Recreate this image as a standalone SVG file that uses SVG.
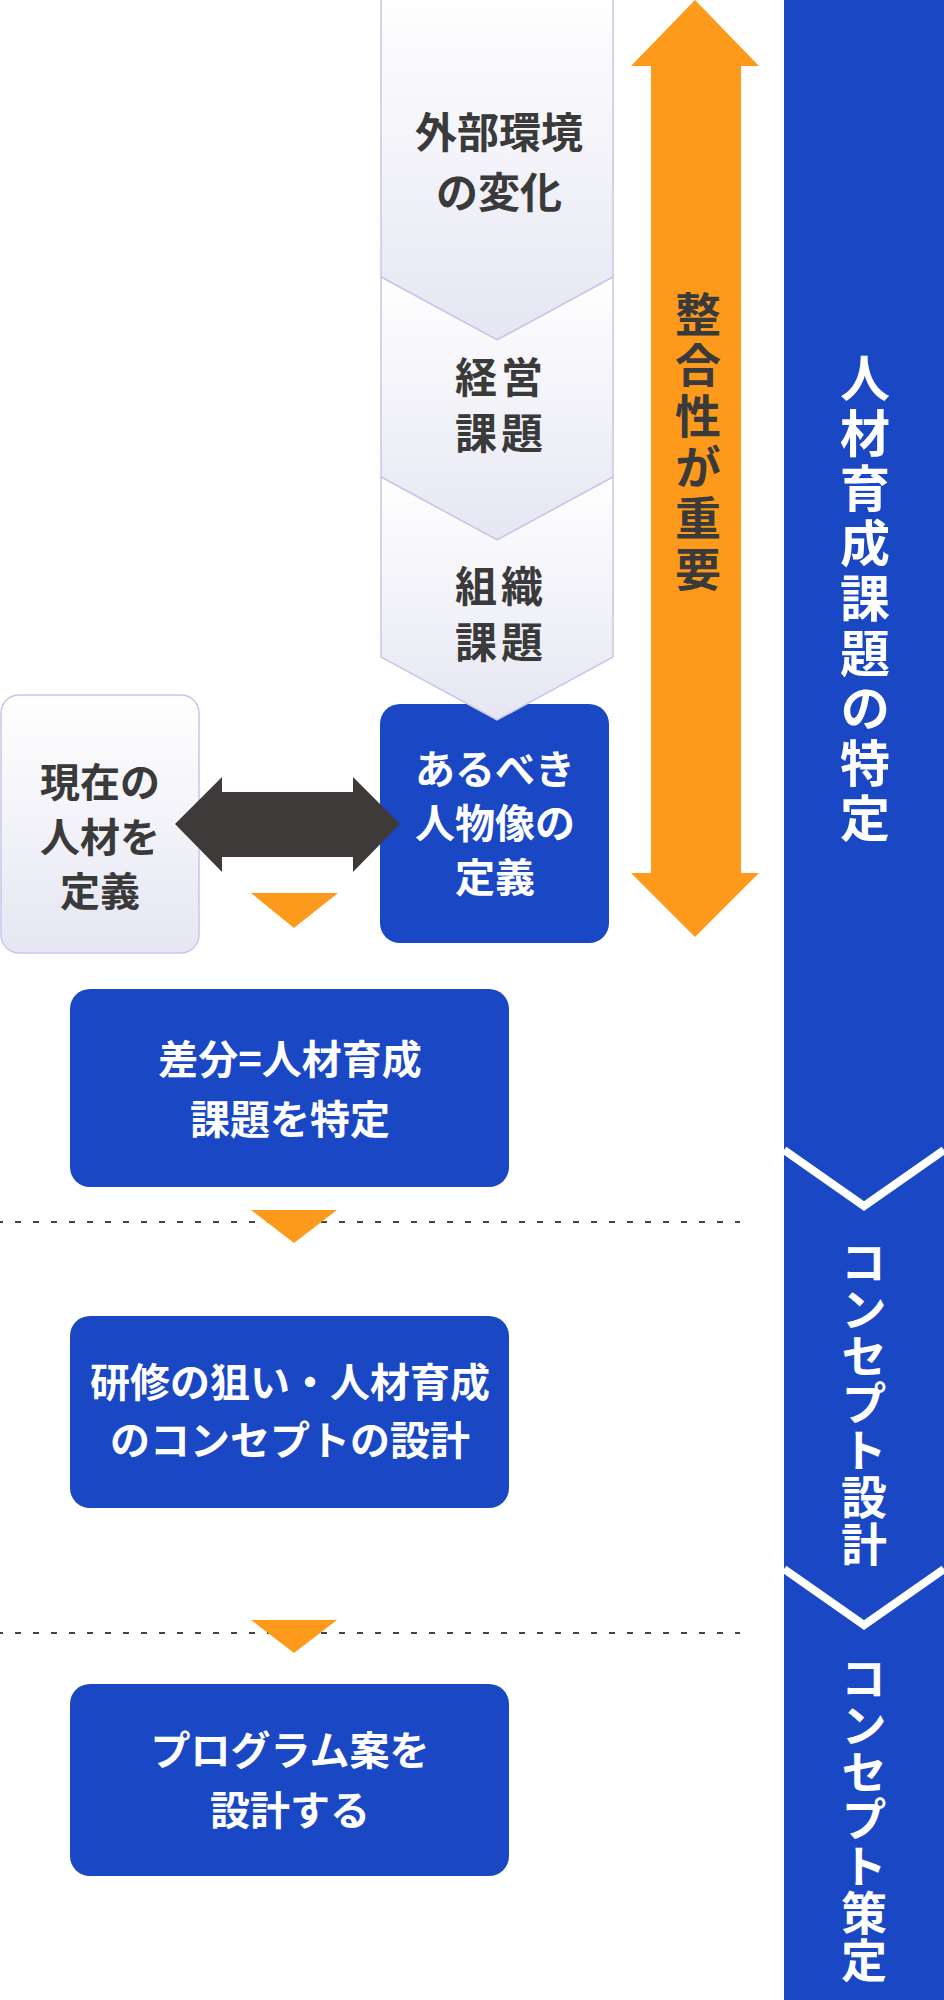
<svg xmlns="http://www.w3.org/2000/svg" width="944" height="2000" viewBox="0 0 944 2000">
<defs>
<linearGradient id="lg" x1="0" y1="0" x2="0" y2="1">
<stop offset="0" stop-color="#ffffff"/>
<stop offset="1" stop-color="#e6e6f3"/>
</linearGradient>
<style>
.lt{fill:url(#lg);stroke:#c6c8e8;stroke-width:1.5}
.bl{fill:#1a47c4}
.or{fill:#fd9a1c}
.dk{font-family:"Noto Sans CJK JP","Noto Sans",sans-serif;font-weight:bold;fill:#3a3a3a;text-anchor:middle}
.wt{font-family:"Noto Sans CJK JP","Noto Sans",sans-serif;font-weight:bold;fill:#ffffff;text-anchor:middle}
.vt{writing-mode:vertical-rl}
.dot{stroke:#444;stroke-width:2;stroke-dasharray:6 12;fill:none}
.chev{fill:none;stroke:#ffffff;stroke-width:8;stroke-linejoin:miter}
</style>
</defs>
<rect width="944" height="2000" fill="#ffffff"/>

<g id="phase-bar">
<rect class="bl" x="784" y="0" width="160" height="2000"/>
<polyline class="chev" points="784,1150 864,1206 944,1150"/>
<polyline class="chev" points="784,1569 864,1625 944,1569"/>
<text class="wt vt" font-size="50" letter-spacing="5" x="865" y="600">人材育成課題の特定</text>
<text class="wt vt" font-size="46" letter-spacing="1" x="864" y="1403">コンセプト設計</text>
<text class="wt vt" font-size="46" letter-spacing="1" x="864" y="1819">コンセプト策定</text>
</g>

<g id="consistency-arrow">
<polygon class="or" points="695,0 759,66 741,66 741,873 759,873 695,937 631,873 651,873 651,66 631,66"/>
<text class="dk vt" font-size="46" letter-spacing="5" x="698" y="444">整合性が重要</text>
</g>

<g id="ideal-person">
<rect class="bl" x="380" y="704" width="229" height="239" rx="20"/>
<text class="wt" font-size="40"><tspan x="495" y="784">あるべき</tspan><tspan x="495" y="838">人物像の</tspan><tspan x="495" y="892">定義</tspan></text>
</g>

<g id="external-env">
<path class="lt" d="M381,-10 L613,-10 L613,277 L497,340 L381,277 Z"/>
<text class="dk" font-size="42"><tspan x="499" y="148">外部環境</tspan><tspan x="499" y="208">の変化</tspan></text>
</g>
<g id="management-issues">
<path class="lt" d="M381,277 L497,340 L613,277 L613,477 L497,540 L381,477 Z"/>
<text class="dk" font-size="42" letter-spacing="4"><tspan x="501" y="393">経営</tspan><tspan x="501" y="449">課題</tspan></text>
</g>
<g id="org-issues">
<path class="lt" d="M381,477 L497,540 L613,477 L613,657 L497,720 L381,657 Z"/>
<text class="dk" font-size="42" letter-spacing="4"><tspan x="501" y="602">組織</tspan><tspan x="501" y="658">課題</tspan></text>
</g>

<g id="current-talent">
<rect class="lt" x="1" y="695" width="198" height="258" rx="18"/>
<text class="dk" font-size="40"><tspan x="100" y="797">現在の</tspan><tspan x="100" y="852">人材を</tspan><tspan x="100" y="906">定義</tspan></text>
</g>

<g id="gap-issue">
<rect class="bl" x="70" y="989" width="439" height="198" rx="20"/>
<text class="wt" font-size="40"><tspan x="290" y="1074">差分=人材育成</tspan><tspan x="290" y="1134">課題を特定</tspan></text>
</g>

<g id="concept-design">
<rect class="bl" x="70" y="1316" width="439" height="192" rx="20"/>
<text class="wt" font-size="40"><tspan x="290" y="1397">研修の狙い・人材育成</tspan><tspan x="290" y="1455">のコンセプトの設計</tspan></text>
</g>

<g id="program-design">
<rect class="bl" x="70" y="1684" width="439" height="192" rx="20"/>
<text class="wt" font-size="40"><tspan x="290" y="1765">プログラム案を</tspan><tspan x="290" y="1825">設計する</tspan></text>
</g>

<g id="connectors">
<polygon fill="#3e3a39" points="175,824 222,777 222,792 353,792 353,777 400,824 353,872 353,857 222,857 222,872"/>
<line class="dot" x1="-3" y1="1222" x2="740" y2="1222"/>
<line class="dot" x1="-3" y1="1633" x2="740" y2="1633"/>
<polygon class="or" points="251,893 338,893 294,928"/>
<polygon class="or" points="251,1210 337,1210 294,1243"/>
<polygon class="or" points="251,1620 337,1620 294,1653"/>
</g>
</svg>
